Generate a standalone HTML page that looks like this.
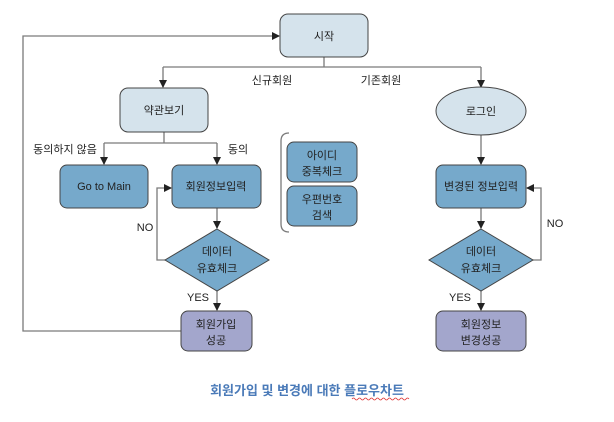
<!DOCTYPE html>
<html><head><meta charset="utf-8"><style>
body{margin:0;background:#fff;}
svg text{font-family:"Liberation Sans","Noto Sans CJK KR",sans-serif;font-size:11px;fill:#222;}
</style></head><body>
<svg width="614" height="417" viewBox="0 0 614 417" xmlns="http://www.w3.org/2000/svg">
<defs><marker id="a" markerWidth="8" markerHeight="8" refX="7" refY="4" orient="auto" markerUnits="userSpaceOnUse"><path d="M0,0 L8,4 L0,8 z" fill="#222"/></marker></defs>
<g stroke="#7a7a7a" stroke-width="1.3" fill="none">
<path d="M324 57 V67 M163 67 H481"/>
<path d="M163 67 V87" marker-end="url(#a)"/>
<path d="M481 67 V87" marker-end="url(#a)"/>
<path d="M164 132 V143 M104 143 H217"/>
<path d="M104 143 V164" marker-end="url(#a)"/>
<path d="M217 143 V164" marker-end="url(#a)"/>
<path d="M217 208 V228" marker-end="url(#a)"/>
<path d="M165 260 H157 V188 H171" marker-end="url(#a)"/>
<path d="M217 291 V310" marker-end="url(#a)"/>
<path d="M181 331 H23 V36 H279" marker-end="url(#a)"/>
<path d="M481 135 V164" marker-end="url(#a)"/>
<path d="M481 208 V228" marker-end="url(#a)"/>
<path d="M533 260 H541 V188 H527" marker-end="url(#a)"/>
<path d="M481 291 V310" marker-end="url(#a)"/>
<path d="M289 133 Q281 133 281 141 V224 Q281 232 289 232"/>
</g>
<g stroke="#444" stroke-width="1">
<rect x="280" y="14" width="88" height="43" rx="8" fill="#d5e3ec"/>
<rect x="120" y="88" width="88" height="44" rx="8" fill="#d5e3ec"/>
<ellipse cx="481" cy="111" rx="45" ry="24" fill="#d5e3ec"/>
<rect x="60" y="165" width="88" height="43" rx="7" fill="#76a9cb"/>
<rect x="172" y="165" width="89" height="43" rx="7" fill="#76a9cb"/>
<rect x="287" y="142" width="70" height="40" rx="7" fill="#76a9cb"/>
<rect x="287" y="186" width="70" height="40" rx="7" fill="#76a9cb"/>
<rect x="436" y="165" width="90" height="43" rx="7" fill="#76a9cb"/>
<path d="M217 229 L269 260 L217 291 L165 260 Z" fill="#76a9cb"/>
<path d="M481 229 L533 260 L481 291 L429 260 Z" fill="#76a9cb"/>
<rect x="181" y="311" width="71" height="40" rx="7" fill="#a3a6cc"/>
<rect x="436" y="311" width="90" height="40" rx="7" fill="#a3a6cc"/>
</g>
<g text-anchor="middle">
<text x="324" y="40">시작</text>
<text x="164" y="114">약관보기</text>
<text x="481" y="115">로그인</text>
<text x="104" y="190">Go to Main</text>
<text x="216" y="190">회원정보입력</text>
<text x="322" y="159">아이디</text>
<text x="322" y="175">중복체크</text>
<text x="322" y="203">우편번호</text>
<text x="322" y="219">검색</text>
<text x="481" y="190">변경된 정보입력</text>
<text x="217" y="255">데이터</text>
<text x="217" y="272">유효체크</text>
<text x="481" y="255">데이터</text>
<text x="481" y="272">유효체크</text>
<text x="216" y="328">회원가입</text>
<text x="216" y="344">성공</text>
<text x="481" y="328">회원정보</text>
<text x="481" y="344">변경성공</text>
<text x="272" y="84">신규회원</text>
<text x="381" y="84">기존회원</text>
<text x="65" y="153">동의하지 않음</text>
<text x="238" y="153">동의</text>
<text x="145" y="231">NO</text>
<text x="555" y="227">NO</text>
<text x="198" y="301">YES</text>
<text x="460" y="301">YES</text>
<text x="307" y="395" style="font-size:13px;font-weight:bold;fill:#4a7ab8">회원가입 및 변경에 대한 플로우차트</text>
</g>
<path d="M352 399 q1.5 -2 3 0 t3 0 t3 0 t3 0 t3 0 t3 0 t3 0 t3 0 t3 0 t3 0 t3 0 t3 0 t3 0 t3 0 t3 0 t3 0 t3 0 t3 0 t3 0" stroke="#d33" stroke-width="0.8" fill="none"/>
</svg>
</body></html>
